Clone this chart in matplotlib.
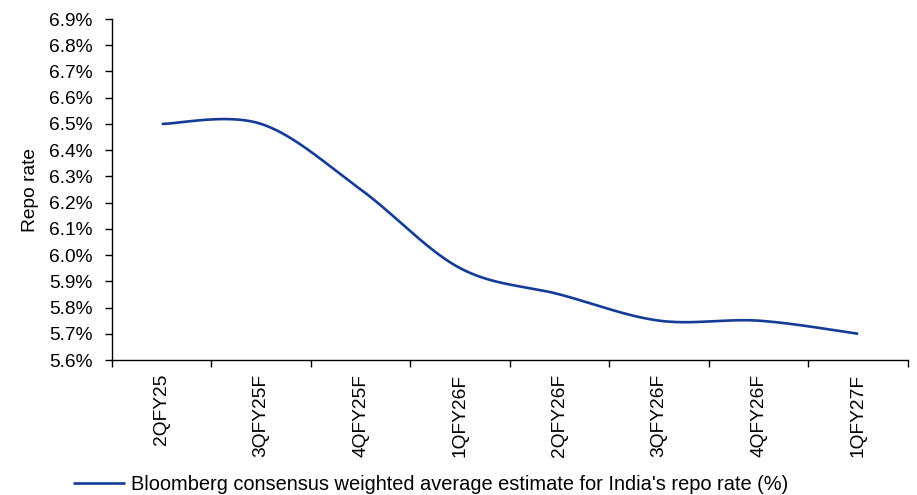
import numpy as np
import matplotlib
matplotlib.use("Agg")
import matplotlib.pyplot as plt
from matplotlib.ticker import FuncFormatter, FixedLocator

plt.rcParams['font.family'] = ['Liberation Sans', 'DejaVu Sans']

quarters = ["2QFY25", "3QFY25F", "4QFY25F", "1QFY26F", "2QFY26F", "3QFY26F", "4QFY26F", "1QFY27F"]
repo_rate = [6.50, 6.50, 6.25, 5.95, 5.85, 5.75, 5.75, 5.70]
series_name = "Bloomberg consensus weighted average estimate for India's repo rate (%)"

fs = 13.8


def smooth(xs, ys, n=40):
    # Catmull-Rom, like Excel's smoothed line
    px = np.concatenate([[xs[0]], xs, [xs[-1]]])
    py = np.concatenate([[ys[0]], ys, [ys[-1]]])
    outx, outy = [], []
    t = np.linspace(0, 1, n)
    for i in range(1, len(px) - 2):
        for p, out in ((px, outx), (py, outy)):
            p0, p1, p2, p3 = p[i - 1], p[i], p[i + 1], p[i + 2]
            m1 = (p2 - p0) / 2
            m2 = (p3 - p1) / 2
            h00 = 2 * t**3 - 3 * t**2 + 1
            h10 = t**3 - 2 * t**2 + t
            h01 = -2 * t**3 + 3 * t**2
            h11 = t**3 - t**2
            out.extend(h00 * p1 + h10 * m1 + h01 * p2 + h11 * m2)
    return np.array(outx), np.array(outy)


x = np.arange(len(quarters), dtype=float)
sx, sy = smooth(x, np.array(repo_rate))

fig = plt.figure(figsize=(9.17, 4.95), dpi=100)
ax = fig.add_axes([0.1221, 0.2727, 0.8680, 0.6889])

line, = ax.plot(sx, sy, color='#143C96', lw=1.9, solid_capstyle='butt', label=series_name)

ax.set_xlim(-0.5, len(quarters) - 0.5)
ax.set_ylim(5.6, 6.9)
ax.set_yticks(np.round(np.arange(5.6, 6.91, 0.1), 1))
ax.yaxis.set_major_formatter(FuncFormatter(lambda v, p: f"{v:.1f}%"))

ax.set_xticks(x)
ax.set_xticklabels(quarters, rotation=90, va='top')
ax.tick_params(axis='x', length=0, pad=10)
ax.xaxis.set_minor_locator(FixedLocator(np.arange(-0.5, len(quarters), 1.0)))
ax.tick_params(axis='x', which='minor', length=5, width=1, direction='out')
ax.tick_params(axis='y', length=5, width=1, direction='out', pad=9)
ax.tick_params(labelsize=fs, colors='black')

for s in ['top', 'right']:
    ax.spines[s].set_visible(False)
for s in ['left', 'bottom']:
    ax.spines[s].set_linewidth(1)

ax.set_ylabel("Repo rate", fontsize=fs, labelpad=7)

fig.legend(handles=[line], loc='center left', bbox_to_anchor=(0.0705, 0.022),
           frameon=False, fontsize=14.4, handlelength=2.6, handletextpad=0.33,
           borderaxespad=0)

fig.savefig("out.png", dpi=100)
